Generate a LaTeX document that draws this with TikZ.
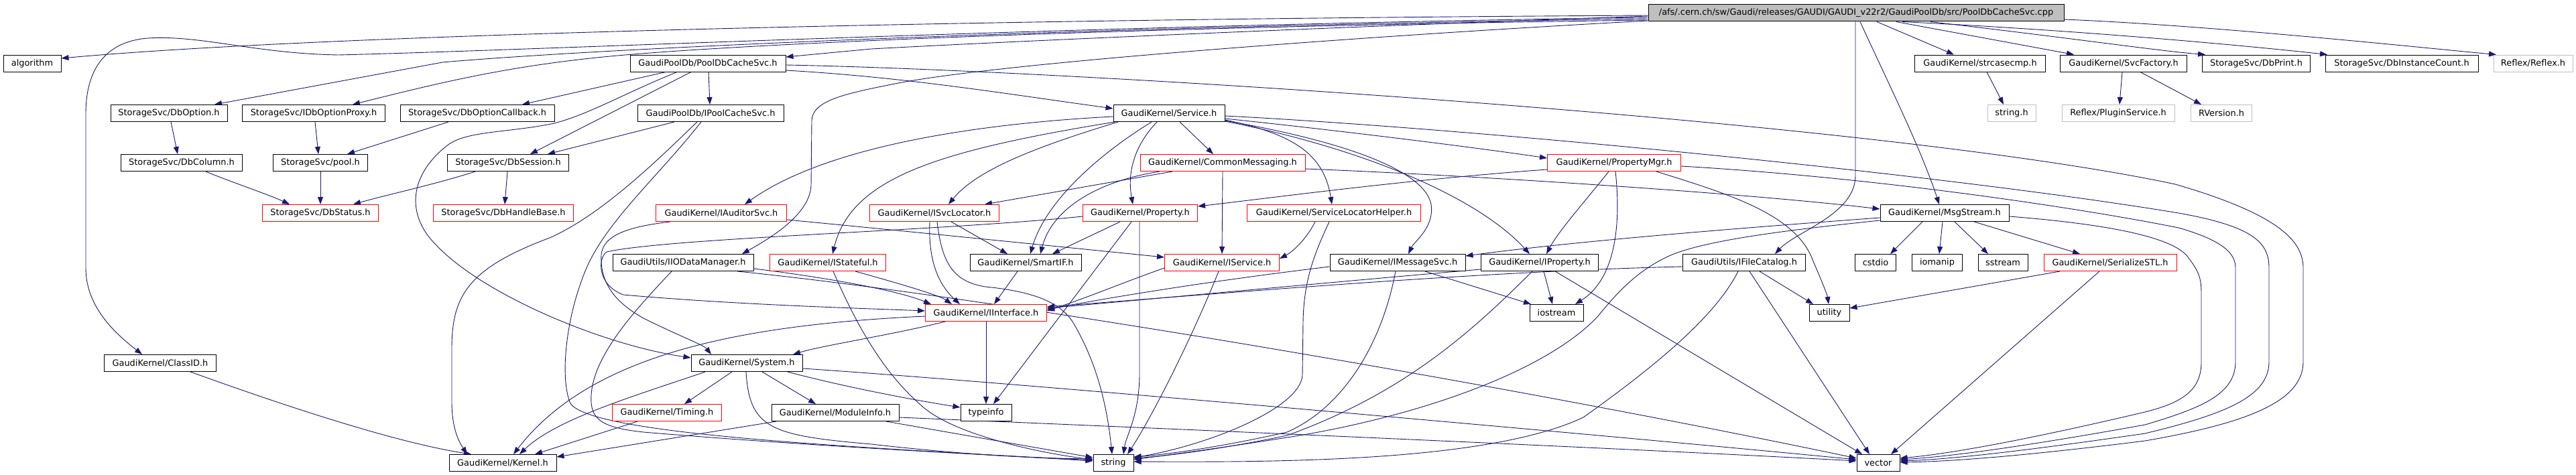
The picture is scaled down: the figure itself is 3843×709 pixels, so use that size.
\documentclass[tikz,border=0pt]{standalone}
\usepackage{fontspec}
\setmainfont{DejaVu Sans}
\usetikzlibrary{arrows.meta}
\definecolor{edgec}{HTML}{191970}
\definecolor{grey75}{HTML}{BFBFBF}
\pgfdeclarelayer{bg}
\pgfsetlayers{bg,main}
\tikzset{
 box/.style={draw=black, fill=white, line width=1pt, minimum height=25pt, inner sep=0pt, font=\fontsize{12.9}{15}\selectfont, text=black},
 rbox/.style={box, draw=red},
 gbox/.style={box, draw=grey75},
 rootbox/.style={box, fill=grey75},
 e/.style={draw=edgec, line width=0.9pt, -{Triangle[length=11pt,width=8pt]}},
}
\begin{document}
\begin{tikzpicture}[x=1pt,y=-1pt]
\useasboundingbox (0,0) rectangle (3843,709);
% row 0
\node[rootbox, minimum width=620pt] (root) at (2769,19.5) {/afs/.cern.ch/sw/Gaudi/releases/GAUDI/GAUDI\_v22r2/GaudiPoolDb/src/PoolDbCacheSvc.cpp};
% row 1
\node[box, minimum width=86pt] (alg) at (48,94.5) {algorithm};
\node[box, minimum width=232pt] (pcs) at (1056,94.5) {GaudiPoolDb/PoolDbCacheSvc.h};
\node[box, minimum width=195pt] (strc) at (2954,94.5) {GaudiKernel/strcasecmp.h};
\node[box, minimum width=189pt] (svcf) at (3168,94.5) {GaudiKernel/SvcFactory.h};
\node[box, minimum width=161pt] (dbprint) at (3366,94.5) {StorageSvc/DbPrint.h};
\node[box, minimum width=228pt] (dbinst) at (3583,94.5) {StorageSvc/DbInstanceCount.h};
\node[gbox, minimum width=118pt] (reflex) at (3779,94.5) {Reflex/Reflex.h};
% row 2
\node[box, minimum width=174pt] (dbopt) at (252,169) {StorageSvc/DbOption.h};
\node[box, minimum width=213pt] (idbopt) at (468,169) {StorageSvc/IDbOptionProxy.h};
\node[box, minimum width=230pt] (dboptcb) at (712,169) {StorageSvc/DbOptionCallback.h};
\node[box, minimum width=218pt] (ipcs) at (1060,169) {GaudiPoolDb/IPoolCacheSvc.h};
\node[box, minimum width=166pt] (svc) at (1744,169) {GaudiKernel/Service.h};
\node[gbox, minimum width=72pt] (stringh) at (3001,169) {string.h};
\node[gbox, minimum width=168pt] (plugin) at (3160,169) {Reflex/PluginService.h};
\node[gbox, minimum width=91pt] (rversion) at (3314,169) {RVersion.h};
% row 3
\node[box, minimum width=181pt] (dbcol) at (271,243) {StorageSvc/DbColumn.h};
\node[box, minimum width=141pt] (pool) at (478,243) {StorageSvc/pool.h};
\node[box, minimum width=181pt] (dbsess) at (758,243) {StorageSvc/DbSession.h};
\node[rbox, minimum width=246pt] (cm) at (1824,243) {GaudiKernel/CommonMessaging.h};
\node[rbox, minimum width=199pt] (pmgr) at (2408,243) {GaudiKernel/PropertyMgr.h};
% row 4
\node[rbox, minimum width=173pt] (dbstat) at (478,318) {StorageSvc/DbStatus.h};
\node[rbox, minimum width=209pt] (dbhb) at (751,318) {StorageSvc/DbHandleBase.h};
\node[rbox, minimum width=195pt] (iaud) at (1076,318) {GaudiKernel/IAuditorSvc.h};
\node[rbox, minimum width=193pt] (isl) at (1394,318) {GaudiKernel/ISvcLocator.h};
\node[rbox, minimum width=171pt] (prop) at (1701,318) {GaudiKernel/Property.h};
\node[rbox, minimum width=259pt] (slh) at (1990,318) {GaudiKernel/ServiceLocatorHelper.h};
\node[box, minimum width=192pt] (msg) at (2901,318) {GaudiKernel/MsgStream.h};
% row 5
\node[box, minimum width=210pt] (iio) at (1019,392) {GaudiUtils/IIODataManager.h};
\node[rbox, minimum width=173pt] (istat) at (1235,392) {GaudiKernel/IStateful.h};
\node[box, minimum width=166pt] (smartif) at (1530,392) {GaudiKernel/SmartIF.h};
\node[rbox, minimum width=171pt] (iserv) at (1823,392) {GaudiKernel/IService.h};
\node[box, minimum width=202pt] (imsg) at (2085,392) {GaudiKernel/IMessageSvc.h};
\node[box, minimum width=175pt] (iprop) at (2297,392) {GaudiKernel/IProperty.h};
\node[box, minimum width=183pt] (ifc) at (2602,392) {GaudiUtils/IFileCatalog.h};
\node[box, minimum width=61pt] (cstdio) at (2798,392) {cstdio};
\node[box, minimum width=75pt] (iomanip) at (2890,392) {iomanip};
\node[box, minimum width=74pt] (sstream) at (2988,392) {sstream};
\node[rbox, minimum width=198pt] (sstl) at (3148,392) {GaudiKernel/SerializeSTL.h};
% row 6
\node[rbox, minimum width=181pt] (iint) at (1471,467) {GaudiKernel/IInterface.h};
\node[box, minimum width=80pt] (iostream) at (2322,467) {iostream};
\node[box, minimum width=60pt] (utility) at (2729,467) {utility};
% row 7
\node[box, minimum width=167pt] (classid) at (239,542) {GaudiKernel/ClassID.h};
\node[box, minimum width=166pt] (system) at (1114,542) {GaudiKernel/System.h};
% row 8
\node[rbox, minimum width=163pt] (timing) at (995,616) {GaudiKernel/Timing.h};
\node[box, minimum width=190pt] (modinfo) at (1246,616) {GaudiKernel/ModuleInfo.h};
\node[box, minimum width=76pt] (typeinfo) at (1471,616) {typeinfo};
% row 9
\node[box, minimum width=160pt] (kernel) at (750,691) {GaudiKernel/Kernel.h};
\node[box, minimum width=60pt] (string) at (1661,691) {string};
\node[box, minimum width=64pt] (vector) at (2802,691) {vector};

\begin{pgfonlayer}{bg}
% root
\draw[e] (root.west |- 0,23) .. controls (1500,28) and (500,50) .. (alg.east |- 0,87);
\draw[e] (root.west |- 0,26) .. controls (1600,38) and (800,75) .. (505,82) .. controls (380,80) and (300,52) .. (220,57) .. controls (160,62) and (128,100) .. (128,170) -- (128,400) .. controls (128,460) and (175,500) .. (classid.north -| 212,0);
\draw[e] (root.west |- 0,28) .. controls (1600,40) and (900,72) .. (660,93) -- (dbopt.north -| 320,0);
\draw[e] (root.west |- 0,30) .. controls (1700,40) and (1100,65) .. (900,85) .. controls (750,100) and (650,125) .. (idbopt.north -| 526,0);
\draw[e] (root.west |- 0,24) .. controls (2000,40) and (1500,62) .. (1300,73) -- (pcs.east |- 0,85);
\draw[e] (root.west |- 0,31) .. controls (2100,50) and (1500,92) .. (1335,125) .. controls (1260,140) and (1212,150) .. (1211,180) -- (1210,277) .. controls (1208,320) and (1150,355) .. (iio.north -| 1107,0);
\draw[e] (root.south -| 2800,0) -- (strc.north -| 2915,0);
\draw[e] (root.south -| 2829,0) -- (svcf.north -| 3094,0);
\draw[e] (root.south -| 2838,0) .. controls (3100,45) and (3350,68) .. (dbinst.north -| 3472,0);
\draw[e] (root.south -| 2880,0) .. controls (3100,58) and (3220,76) .. (dbprint.north -| 3290,0);
\draw[e] (root.east |- 0,29) .. controls (3300,38) and (3600,70) .. (reflex.north -| 3724,0);
\draw[e] (root.south -| 2775,0) .. controls (2815,120) and (2865,220) .. (msg.north -| 2893,0);
\draw[e] (root.south -| 2768,0) -- (2768,262) .. controls (2768,320) and (2680,345) .. (ifc.north -| 2648,0);
\draw[e] (strc.south -| 2964,0) -- (stringh.north -| 2989,0);
\draw[e] (svcf.south -| 3166,0) -- (plugin.north -| 3162,0);
\draw[e] (svcf.south -| 3193,0) -- (rversion.north -| 3284,0);
% pcs
\draw[e] (pcs.south -| 993,0) -- (dboptcb.north -| 779,0);
\draw[e] (pcs.south -| 1010,0) .. controls (930,140) and (880,170) .. (827,184) .. controls (760,198) and (700,195) .. (670,215) .. controls (610,260) and (605,320) .. (650,365) .. controls (720,440) and (900,515) .. (system.west |- 0,534);
\draw[e] (pcs.south -| 1031,0) -- (dbsess.north -| 791,0);
\draw[e] (pcs.south -| 1057,0) -- (ipcs.north -| 1059,0);
\draw[e] (pcs.east |- 0,105) .. controls (1350,115) and (1500,140) .. (svc.west |- 0,162);
\draw[e] (pcs.east |- 0,97) .. controls (1600,105) and (2800,180) .. (3245,275) .. controls (3400,320) and (3436,360) .. (3436,400) -- (3436,540) .. controls (3436,600) and (3350,632) .. (3200,658) .. controls (3000,683) and (2900,689) .. (vector.east |- 0,690);
% storage
\draw[e] (dbopt.south -| 255,0) -- (dbcol.north -| 265,0);
\draw[e] (idbopt.south -| 470,0) -- (pool.north -| 475,0);
\draw[e] (dboptcb.south -| 669,0) -- (pool.north -| 518,0);
\draw[e] (dbcol.south -| 307,0) .. controls (340,270) and (400,290) .. (dbstat.north -| 432,0);
\draw[e] (pool.south) -- (dbstat.north);
\draw[e] (dbsess.south -| 757,0) -- (dbhb.north -| 753,0);
\draw[e] (dbsess.south -| 709,0) .. controls (650,275) and (580,290) .. (dbstat.north -| 527,0);
\draw[e] (ipcs.south -| 1006,0) -- (dbsess.north -| 817,0);
\draw[e] (ipcs.south -| 1040,0) .. controls (990,230) and (900,320) .. (820,355) .. controls (700,400) and (674,440) .. (674,520) -- (674,600) .. controls (674,640) and (685,660) .. (kernel.north -| 697,0);
\draw[e] (ipcs.south -| 1046,0) .. controls (985,260) and (905,330) .. (875,400) .. controls (845,470) and (835,560) .. (850,600) .. controls (870,650) and (1300,668) .. (string.west |- 0,688);
% Service
\draw[e] (svc.west |- 0,174) .. controls (1450,185) and (1230,220) .. (iaud.north -| 1111,0);
\draw[e] (svc.south -| 1663,0) .. controls (1400,225) and (1270,265) .. (istat.north -| 1242,0);
\draw[e] (svc.south -| 1668,0) .. controls (1560,215) and (1460,250) .. (isl.north -| 1415,0);
\draw[e] (svc.south -| 1718,0) .. controls (1640,230) and (1560,300) .. (smartif.north -| 1537,0);
\draw[e] (svc.south -| 1726,0) .. controls (1690,220) and (1682,260) .. (prop.north -| 1690,0);
\draw[e] (svc.south -| 1760,0) -- (cm.north -| 1810,0);
\draw[e] (svc.east |- 0,177) .. controls (2000,195) and (2200,220) .. (pmgr.west |- 0,236);
\draw[e] (svc.east |- 0,179) .. controls (1930,200) and (1975,230) .. (slh.north -| 1987,0);
\draw[e] (svc.east |- 0,180) .. controls (2010,212) and (2125,255) .. (2135,305) .. controls (2140,340) and (2110,360) .. (imsg.north -| 2101,0);
\draw[e] (svc.east |- 0,181) .. controls (2050,225) and (2210,300) .. (iprop.north -| 2282,0);
\draw[e] (svc.east |- 0,173) .. controls (2200,192) and (2900,260) .. (3250,318) .. controls (3362,338) and (3385,362) .. (3385,400) -- (3385,540) .. controls (3385,592) and (3320,618) .. (3200,647) .. controls (3000,676) and (2900,686) .. (vector.east |- 0,688);
% CommonMessaging
\draw[e] (cm.south -| 1749,0) -- (isl.north -| 1469,0);
\draw[e] (cm.south -| 1824,0) -- (iserv.north -| 1823,0);
\draw[e] (cm.south -| 1730,0) .. controls (1640,270) and (1570,310) .. (smartif.north -| 1552,0);
\draw[e] (cm.east |- 0,252) .. controls (2200,262) and (2600,288) .. (msg.west |- 0,312);
% PropertyMgr
\draw[e] (pmgr.west |- 0,253) .. controls (2100,268) and (1900,295) .. (prop.east |- 0,308);
\draw[e] (pmgr.south -| 2400,0) .. controls (2365,300) and (2325,345) .. (iprop.north -| 2307,0);
\draw[e] (pmgr.south -| 2410,0) .. controls (2418,330) and (2412,415) .. (iostream.north -| 2350,0);
\draw[e] (pmgr.south -| 2471,0) .. controls (2580,290) and (2680,320) .. (2705,390) .. controls (2718,420) and (2726,440) .. (utility.north -| 2728,0);
\draw[e] (pmgr.east |- 0,248) .. controls (2800,265) and (3100,310) .. (3250,340) .. controls (3320,360) and (3335,380) .. (3335,400) -- (3335,540) .. controls (3335,590) and (3280,610) .. (3200,634) .. controls (3000,670) and (2900,682) .. (vector.east |- 0,686);
% Property
\draw[e] (prop.south -| 1671,0) -- (smartif.north -| 1570,0);
\draw[e] (prop.south -| 1688,0) -- (typeinfo.north -| 1482,0);
\draw[e] (prop.south -| 1700,0) -- (1700,557) .. controls (1700,620) and (1680,650) .. (string.north -| 1676,0);
\draw[e] (prop.west |- 0,323) .. controls (1400,345) and (1000,355) .. (905,376) .. controls (892,385) and (890,425) .. (930,440) .. controls (1100,455) and (1280,460) .. (iint.west |- 0,464);
% ServiceLocatorHelper
\draw[e] (slh.south -| 1962,0) .. controls (1950,355) and (1930,375) .. (iserv.east |- 0,386);
\draw[e] (slh.south -| 1983,0) .. controls (1960,380) and (1945,420) .. (1944,480) -- (1943,560) .. controls (1940,610) and (1800,665) .. (string.east |- 0,683);
% MsgStream
\draw[e] (msg.south -| 2868,0) -- (cstdio.north -| 2820,0);
\draw[e] (msg.south -| 2898,0) -- (iomanip.north -| 2893,0);
\draw[e] (msg.south -| 2916,0) -- (sstream.north -| 2966,0);
\draw[e] (msg.south -| 2945,0) -- (sstl.north -| 3103,0);
\draw[e] (msg.west |- 0,325) .. controls (2600,340) and (2350,360) .. (imsg.east |- 0,382);
\draw[e] (msg.west |- 0,329) .. controls (2650,345) and (2540,360) .. (2490,382) .. controls (2440,405) and (2410,440) .. (2383,473) .. controls (2300,560) and (2100,625) .. (1920,653) .. controls (1800,672) and (1720,682) .. (string.east |- 0,686);
\draw[e] (msg.east |- 0,323) .. controls (3150,335) and (3245,355) .. (3265,385) .. controls (3284,410) and (3284,420) .. (3284,445) -- (3284,540) .. controls (3284,580) and (3260,600) .. (3200,615) .. controls (3000,662) and (2900,678) .. (vector.east |- 0,684);
% IFileCatalog
\draw[e] (ifc.west |- 0,398) .. controls (2200,405) and (1800,440) .. (iint.east |- 0,458);
\draw[e] (ifc.south -| 2625,0) -- (utility.north -| 2705,0);
\draw[e] (ifc.south -| 2610,0) -- (vector.north -| 2789,0);
\draw[e] (ifc.south -| 2593,0) .. controls (2565,460) and (2500,525) .. (2362,623) .. controls (2220,690) and (1900,690) .. (string.east |- 0,689);
% SerializeSTL
\draw[e] (sstl.south -| 3073,0) -- (utility.east |- 0,460);
\draw[e] (sstl.south -| 3132,0) -- (vector.north -| 2821,0);
% IProperty
\draw[e] (iprop.south -| 2303,0) -- (iostream.north -| 2316,0);
\draw[e] (iprop.west |- 0,402) .. controls (2000,420) and (1700,448) .. (iint.east |- 0,460);
\draw[e] (iprop.south -| 2320,0) -- (vector.north -| 2778,0);
\draw[e] (iprop.south -| 2286,0) .. controls (2200,490) and (2100,585) .. (1920,650) .. controls (1800,675) and (1720,682) .. (string.east |- 0,684);
% IMessageSvc
\draw[e] (imsg.south -| 2126,0) -- (iostream.north -| 2284,0);
\draw[e] (imsg.west |- 0,398) .. controls (1800,420) and (1650,445) .. (iint.east |- 0,462);
\draw[e] (imsg.south -| 2082,0) .. controls (2060,520) and (2000,610) .. (1920,645) .. controls (1800,672) and (1720,680) .. (string.east |- 0,682);
% IService
\draw[e] (iserv.west |- 0,400) .. controls (1680,420) and (1620,445) .. (iint.east |- 0,464);
\draw[e] (iserv.south -| 1818,0) .. controls (1780,500) and (1720,620) .. (string.north -| 1682,0);
% SmartIF
\draw[e] (smartif.south -| 1518,0) -- (iint.north -| 1483,0);
% IStateful
\draw[e] (istat.south -| 1276,0) .. controls (1330,420) and (1400,440) .. (iint.north -| 1420,0);
\draw[e] (istat.south -| 1243,0) .. controls (1280,490) and (1320,560) .. (1380,610) .. controls (1430,650) and (1550,676) .. (string.west |- 0,686);
% ISvcLocator
\draw[e] (isl.south -| 1387,0) .. controls (1385,380) and (1395,420) .. (iint.north -| 1432,0);
\draw[e] (isl.south -| 1419,0) -- (smartif.north -| 1503,0);
\draw[e] (isl.south -| 1398,0) .. controls (1405,390) and (1420,420) .. (1470,428) .. controls (1540,435) and (1580,450) .. (1600,480) .. controls (1630,530) and (1650,590) .. (string.north -| 1659,0);
% IAuditorSvc
\draw[e] (iaud.east |- 0,328) .. controls (1300,340) and (1500,360) .. (iserv.west |- 0,384);
\draw[e] (iaud.south -| 1000,0) .. controls (940,338) and (900,350) .. (897,380) .. controls (895,420) and (915,450) .. (960,475) .. controls (1010,500) and (1050,515) .. (system.north -| 1061,0);
% IIODataManager
\draw[e] (iio.east |- 0,401) .. controls (1200,410) and (1330,430) .. (iint.north -| 1389,0);
\draw[e] (iio.south -| 1100,0) .. controls (1500,445) and (2300,585) .. (vector.west |- 0,684);
\draw[e] (iio.south -| 1002,0) .. controls (950,460) and (885,530) .. (882,590) .. controls (880,625) and (895,638) .. (960,645) .. controls (1200,665) and (1450,678) .. (string.west |- 0,687);
% IInterface
\draw[e] (iint.south) -- (typeinfo.north);
\draw[e] (iint.south -| 1410,0) .. controls (1330,500) and (1230,515) .. (system.north -| 1183,0);
\draw[e] (iint.west |- 0,472) .. controls (1100,485) and (880,530) .. (kernel.north -| 766,0);
% System
\draw[e] (system.south -| 1092,0) -- (timing.north -| 1021,0);
\draw[e] (system.south -| 1137,0) -- (modinfo.north -| 1217,0);
\draw[e] (system.south -| 1052,0) .. controls (950,590) and (830,625) .. (kernel.north -| 775,0);
\draw[e] (system.south -| 1175,0) .. controls (1250,575) and (1350,595) .. (typeinfo.west |- 0,608);
\draw[e] (system.south -| 1113,0) .. controls (1118,640) and (1150,650) .. (1300,663) .. controls (1450,680) and (1550,684) .. (string.west |- 0,685);
\draw[e] (system.east |- 0,550) .. controls (1500,570) and (2400,650) .. (vector.west |- 0,686);
% Timing, ModuleInfo, ClassID
\draw[e] (timing.south -| 951,0) -- (kernel.north -| 798,0);
\draw[e] (modinfo.south -| 1158,0) -- (kernel.east |- 0,682);
\draw[e] (modinfo.south -| 1322,0) -- (string.west |- 0,683);
\draw[e] (modinfo.east |- 0,623) .. controls (1700,638) and (2400,668) .. (vector.west |- 0,688);
\draw[e] (classid.south -| 284,0) .. controls (450,615) and (600,662) .. (kernel.north -| 703,0);
\end{pgfonlayer}
\end{tikzpicture}
\end{document}
